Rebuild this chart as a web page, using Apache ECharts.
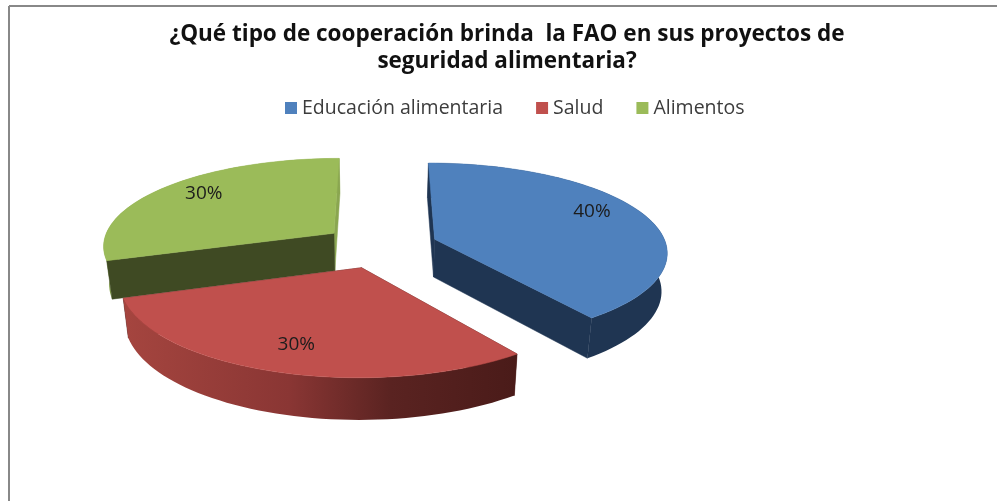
<!DOCTYPE html>
<html><head><meta charset="utf-8">
<style>html,body{margin:0;padding:0;background:#fff}#c{width:997px;height:501px}</style>
<script src="https://cdn.jsdelivr.net/npm/echarts@6/dist/echarts.min.js"></script>
</head><body><div id="c"></div>
<script>
const titleText = '¿Qué tipo de cooperación brinda  la FAO en sus proyectos de\nseguridad alimentaria?';
const categories = ['Educación alimentaria', 'Salud', 'Alimentos'];
const values = [40, 30, 30];

// 3D look: colours per slice
const topColors = ['#4f81bd', '#c0504d', '#9bbb59'];
const cutColors = [['#1f3552', '#1f3552'], ['#4d1c1a', '#4d1c1a'], ['#3f4a23', '#8aa650']];
const wallStops = [
  [[0, '#1f3552'], [1, '#1f3552']],
  [[0, '#a5453f'], [0.42, '#8a3634'], [0.68, '#5a2321'], [1, '#4a1b19']],
  [[0, '#8aa650'], [1, '#8aa650']]
];
const wallOverCut = [true, true, false];
// layout of the projected disc
const C = {x: 380, y: 246, rx: 232, ry: 88.4, bx: 0.13, by: 0.137, depth: 38, bd: 0.08, lowerScale: 0.98, explode: 0.25};
const labelRadial = [0.80, 0.77, 0.80];
const labelAngleShift = [-7, 0, 3];

const total = values.reduce((a, b) => a + b, 0);
const rad = d => d * Math.PI / 180;
const startAngle = i => values.slice(0, i).reduce((a, b) => a + b, 0) / total * 360;

function world(i, theta, r) {
  const mid = startAngle(i) + values[i] / total * 180;
  return {
    X: C.explode * Math.sin(rad(mid)) + r * Math.sin(rad(theta)),
    Z: -C.explode * Math.cos(rad(mid)) - r * Math.cos(rad(theta))
  };
}
function proj(w, lower) {
  let dx = C.rx * w.X / (1 - C.bx * w.Z);
  let y = C.y + C.ry * w.Z / (1 - C.by * w.Z);
  if (lower) { y += C.depth / (1 - C.bd * w.Z); dx *= C.lowerScale; }
  return [C.x + dx, y];
}
function poly(points, fill) {
  return {type: 'polygon', shape: {points},
    style: {fill, stroke: typeof fill === 'string' ? fill : null, lineWidth: typeof fill === 'string' ? 0.5 : 0}};
}
function makeRender(i) {
  return function () {
    const a0 = startAngle(i), a1 = a0 + values[i] / total * 360;
    const arc = [];
    for (let t = a0; t <= a1 + 1e-6; t += 2) arc.push(world(i, t, 1));
    const c = world(i, 0, 0);
    const s = arc[0], e = arc[arc.length - 1];
    const cutFace = (p, col) => poly([proj(c), proj(p), proj(p, true), proj(c, true)], col);
    const wall = arc.map(w => proj(w)).concat(arc.slice().reverse().map(w => proj(w, true)));
    const wallFill = {type: 'linear', x: 0, y: 0, x2: 1, y2: 0,
      colorStops: wallStops[i].map(([offset, color]) => ({offset, color}))};
    const top = [proj(c)].concat(arc.map(w => proj(w)));
    const mid = (a0 + a1) / 2 + labelAngleShift[i];
    const lp = proj(world(i, mid, labelRadial[i]));
    const cuts = [cutFace(e, cutColors[i][1]), cutFace(s, cutColors[i][0])];
    const wallShape = poly(wall, wallFill);
    const sides = wallOverCut[i] ? cuts.concat([wallShape]) : [wallShape].concat(cuts);
    return {type: 'group', children: sides.concat([
      poly(top, topColors[i]),
      {type: 'text', x: lp[0], y: lp[1], style: {
        text: Math.round(values[i] / total * 100) + '%', fill: '#1c1c1c',
        font: '400 19px "Open Sans"', align: 'center', verticalAlign: 'middle'}}
    ])};
  };
}
const drawOrder = [2, 0, 1];
const chart = echarts.init(document.getElementById('c'), null, {renderer: 'canvas'});
chart.setOption({
  animation: false,
  backgroundColor: '#ffffff',
  title: {text: titleText, left: 502, top: 16, textAlign: 'center',
    textStyle: {fontFamily: 'Open Sans', fontWeight: 'bold', fontSize: 22.5, lineHeight: 27, color: '#111'}},
  legend: {data: categories, left: 280, top: 93, itemWidth: 12, itemHeight: 12, itemGap: 33, itemTextGap: 6,
    icon: 'rect', textStyle: {fontFamily: 'Open Sans', fontSize: 19.5, color: '#3c3c3c'}},
  graphic: [
    {type: 'line', shape: {x1: 9, y1: 6, x2: 9, y2: 501}, style: {stroke: '#888', lineWidth: 2}},
    {type: 'line', shape: {x1: 9, y1: 6, x2: 997, y2: 6}, style: {stroke: '#888', lineWidth: 2}}
  ],
  series: drawOrder.map(i => ({
    type: 'custom', name: categories[i], coordinateSystem: 'none',
    itemStyle: {color: topColors[i]}, data: [values[i]], renderItem: makeRender(i)
  }))
});
</script></body></html>
